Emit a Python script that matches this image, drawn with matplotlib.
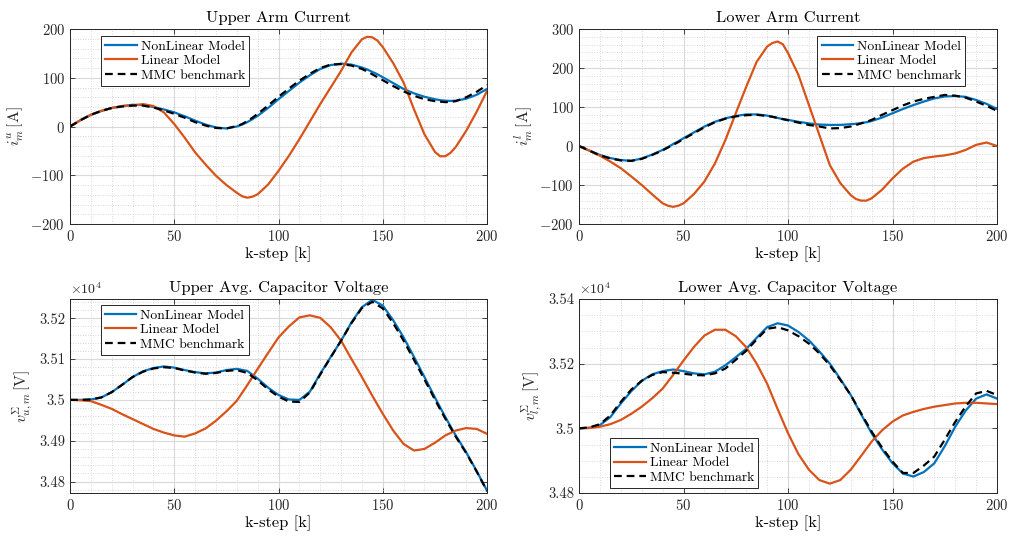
import numpy as np
import matplotlib
matplotlib.use('Agg')
import matplotlib.pyplot as plt
from matplotlib.ticker import MultipleLocator, FuncFormatter

plt.rcParams['font.family'] = 'cmr10'
plt.rcParams['mathtext.fontset'] = 'cm'
plt.rcParams['axes.unicode_minus'] = False
plt.rcParams['axes.formatter.use_mathtext'] = True

# sample steps (extra samples near the sharp peaks of the current plots)
k_iu = [0, 5, 10, 15, 20, 25, 30, 35, 40, 45, 50, 55, 60, 65, 70, 75, 80, 82.5, 85, 87.5,
        90, 95, 100, 105, 110, 115, 120, 125, 130, 135, 140, 142.5, 145, 147.5,
        150, 155, 160, 165, 170, 175, 177.5, 180, 182.5, 185, 190, 195, 200]
k_il = [0, 5, 10, 15, 20, 25, 30, 35, 40, 42.5, 45, 47.5, 50, 55, 60, 65, 70, 75, 80, 85, 90,
        92.5, 95, 97.5, 100, 105, 110, 115, 120, 125, 130, 132.5, 135, 137.5,
        140, 145, 150, 155, 160, 165, 170, 175, 180, 185, 190, 195, 200]
k_v = np.arange(0, 201, 5)

# upper arm current [A]
iu_nl = [0, 13, 24, 32, 38, 42, 44.5, 44, 40, 35, 29, 21, 12, 4, -2, -4, 0, 4, 9, 15,
         22, 38, 56, 73, 90, 105, 118, 126, 129, 127, 121, 117, 112, 107,
         101, 89, 77, 68, 61, 56, 54, 53, 52.5, 53, 57, 65, 77]
iu_lin = [0, 13, 24, 32, 38, 42, 43, 46, 42, 29, 5, -23, -53, -78, -101, -120, -136, -143, -146, -144,
          -139, -119, -91, -60, -26, 10, 46, 80, 114, 152, 179, 184, 183, 176,
          163, 130, 90, 35, -16, -52, -61, -61, -54, -42, -9, 30, 73]
iu_mmc = [0, 13, 24, 32, 38, 41, 43, 43, 39, 33, 26, 18, 9, 2, -3, -4, 1, 5, 11, 18,
          26, 43, 61, 78, 94, 108, 120, 127, 128, 125, 118, 113, 107, 101,
          95, 83, 72, 63, 56, 52, 51, 50, 50.5, 52, 60, 71, 85]

# lower arm current [A]
il_nl = [0, -12, -23, -31, -36, -38, -32, -22, -10, -3, 5, 12, 20, 35, 50, 62, 71, 77, 81, 81, 78,
         75, 72, 69, 67, 62, 58, 55, 54, 54, 56, 57, 59, 61,
         64, 73, 84, 95, 105, 114, 122, 127, 128, 126, 118, 108, 95]
il_lin = [0, -12, -25, -40, -57, -78, -100, -124, -147, -153, -156, -153, -147, -123, -91, -45, 15, 84, 152, 216, 255,
          264, 268, 261, 238, 182, 105, 28, -49, -95, -126, -136, -140, -140,
          -134, -112, -83, -58, -40, -31, -27, -24, -19, -10, 3, 9, 0]
il_mmc = [0, -12, -24, -32, -37, -38, -33, -23, -11, -4, 3, 10, 18, 33, 48, 61, 70, 76, 79, 80, 77,
          75, 72, 69, 66, 60, 54, 50, 45, 46, 50, 54, 58, 62,
          67, 80, 92, 104, 114, 121, 126, 131, 129, 124, 114, 103, 90]

# upper avg capacitor voltage [V]
vu_nl = [35000, 35000, 35001, 35006, 35019, 35037, 35056, 35070, 35078, 35082, 35079, 35073, 35068, 35065,
         35067, 35073, 35076, 35071, 35052, 35030, 35012, 35001, 35000, 35020, 35064, 35105, 35145, 35190,
         35227, 35245, 35231, 35195, 35153, 35105, 35056, 35006, 34958, 34913, 34872, 34826, 34778]
vu_lin = [35000, 34999, 34997, 34988, 34978, 34965, 34953, 34941, 34929, 34920, 34913, 34910, 34918, 34930,
          34949, 34972, 34998, 35036, 35076, 35115, 35153, 35180, 35202, 35207, 35201, 35178, 35145, 35100,
          35056, 35010, 34966, 34925, 34892, 34876, 34880, 34895, 34913, 34925, 34931, 34929, 34917]
vu_mmc = [35000, 35000, 35001, 35006, 35019, 35037, 35056, 35069, 35077, 35080, 35078, 35072, 35067, 35064,
          35066, 35071, 35073, 35066, 35048, 35026, 35008, 34996, 34995, 35018, 35062, 35104, 35145, 35188,
          35225, 35240, 35224, 35188, 35145, 35098, 35050, 35001, 34954, 34910, 34870, 34825, 34777]

# lower avg capacitor voltage [V]
vl_nl = [35000, 35002, 35010, 35035, 35077, 35115, 35147, 35167, 35177, 35182, 35177, 35170, 35167, 35175,
         35195, 35220, 35246, 35280, 35313, 35325, 35318, 35298, 35272, 35238, 35200, 35153, 35103, 35043,
         34985, 34935, 34892, 34860, 34851, 34865, 34892, 34945, 35005, 35055, 35092, 35105, 35092]
vl_lin = [35000, 35001, 35005, 35013, 35026, 35045, 35067, 35093, 35123, 35165, 35210, 35252, 35287, 35305,
          35305, 35285, 35251, 35200, 35138, 35060, 34985, 34920, 34872, 34840, 34829, 34840, 34872, 34915,
          34959, 34994, 35021, 35040, 35051, 35060, 35067, 35072, 35077, 35079, 35079, 35077, 35075]
vl_mmc = [35000, 35003, 35013, 35040, 35082, 35120, 35147, 35165, 35174, 35172, 35169, 35165, 35164, 35170,
          35185, 35212, 35240, 35275, 35308, 35313, 35303, 35285, 35262, 35232, 35195, 35150, 35103, 35046,
          34990, 34940, 34897, 34862, 34862, 34885, 34913, 34965, 35020, 35068, 35108, 35116, 35103]

blue = '#0072BD'
orange = '#D95319'
dark = '#262626'


def draw(ax, k, nl, lin, mmc, title, ylabel, ylim, major, minor, leg_loc, leg_anchor, sci=False):
    ax.plot(k, nl, color=blue, lw=1.6, label='NonLinear Model')
    ax.plot(k, lin, color=orange, lw=1.6, label='Linear Model')
    ax.plot(k, mmc, color='k', lw=1.6, ls=(0, (3.5, 2.2)), label='MMC benchmark')
    ax.set_xlim(0, 200)
    ax.set_ylim(*ylim)
    ax.xaxis.set_major_locator(MultipleLocator(50))
    ax.xaxis.set_minor_locator(MultipleLocator(10))
    ax.yaxis.set_major_locator(MultipleLocator(major))
    ax.yaxis.set_minor_locator(MultipleLocator(minor))
    ax.grid(True, which='major', color='#d9d9d9', lw=0.8)
    ax.grid(True, which='minor', color='#cccccc', lw=0.6, ls=(0, (1, 2)))
    ax.set_axisbelow(True)
    ax.tick_params(which='both', direction='in', top=True, right=True, labelsize=10.5, colors=dark)
    ax.tick_params(which='major', length=3.5, width=0.6, pad=3.5)
    ax.tick_params(which='minor', length=0)
    for s in ax.spines.values():
        s.set_color(dark)
        s.set_linewidth(0.7)
    ax.set_title(title, fontsize=11.8, pad=5)
    ax.set_xlabel('k-step [k]', fontsize=11.8, labelpad=2)
    ax.set_ylabel(ylabel, fontsize=11.5, labelpad=3, color=dark)
    if sci:
        ax.yaxis.set_major_formatter(FuncFormatter(lambda v, p: f'{v / 1e4:g}'))
        ax.text(0.0, 1.01, r'$\times10^{4}$', transform=ax.transAxes, fontsize=10,
                ha='left', va='bottom', color=dark)
    leg = ax.legend(loc=leg_loc, bbox_to_anchor=leg_anchor, fontsize=9.8, frameon=True, fancybox=False,
                    framealpha=1, edgecolor=dark, borderpad=0.3, labelspacing=0.15,
                    handlelength=2.3, handletextpad=0.3, borderaxespad=0)
    leg.get_frame().set_linewidth(0.7)


fig = plt.figure(figsize=(10.18, 5.38), dpi=100)
ax1 = fig.add_axes([0.0688, 0.5836, 0.4096, 0.3625])
ax2 = fig.add_axes([0.5688, 0.5836, 0.4106, 0.3625])
ax3 = fig.add_axes([0.0688, 0.0836, 0.4096, 0.3606])
ax4 = fig.add_axes([0.5688, 0.0836, 0.4106, 0.3606])

draw(ax1, k_iu, iu_nl, iu_lin, iu_mmc, 'Upper Arm Current', r'$i_m^u\,[\mathrm{A}]$', (-200, 200), 100, 20,
     'upper left', (0.075, 0.964))
draw(ax2, k_il, il_nl, il_lin, il_mmc, 'Lower Arm Current', r'$i_m^l\,[\mathrm{A}]$', (-200, 300), 100, 20,
     'upper right', (0.924, 0.964))
draw(ax3, k_v, vu_nl, vu_lin, vu_mmc, 'Upper Avg. Capacitor Voltage', r'$v_{u,m}^{\Sigma}\,[\mathrm{V}]$',
     (34772, 35247), 100, 20, 'upper left', (0.074, 0.969), sci=True)
draw(ax4, k_v, vl_nl, vl_lin, vl_mmc, 'Lower Avg. Capacitor Voltage', r'$v_{l,m}^{\Sigma}\,[\mathrm{V}]$',
     (34800, 35400), 200, 50, 'lower left', (0.075, 0.026), sci=True)

fig.savefig('out.png', dpi=100)
